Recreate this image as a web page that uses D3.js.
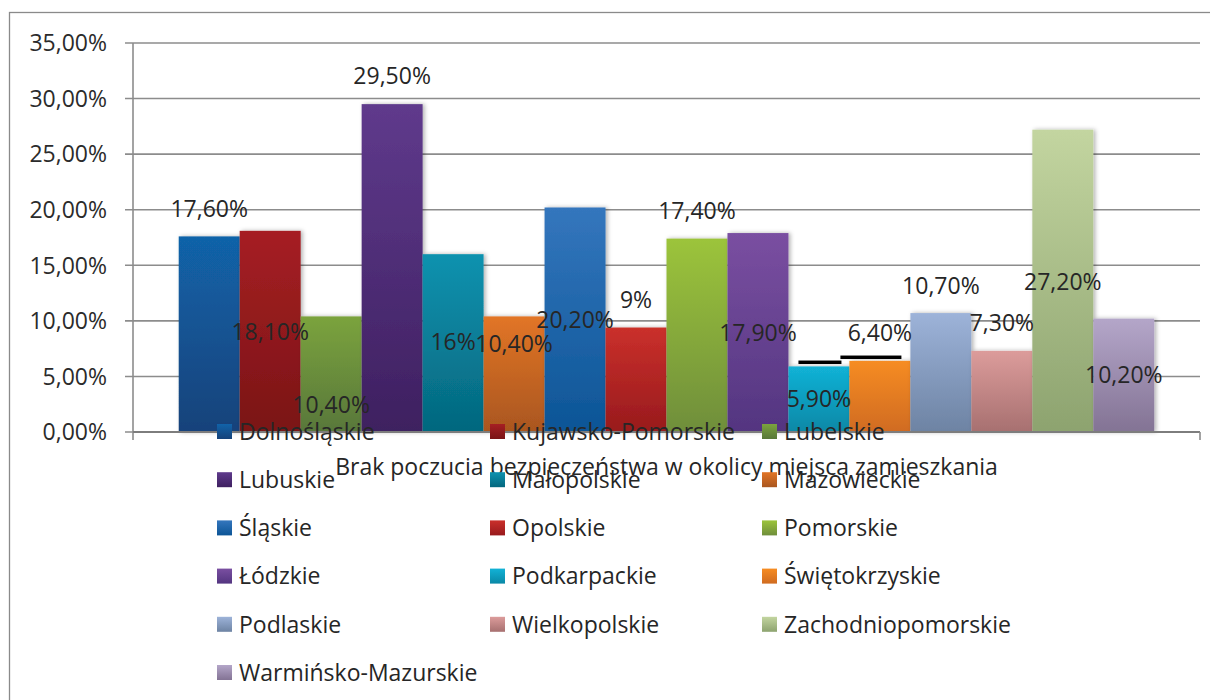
<!DOCTYPE html>
<html>
<head>
<meta charset="utf-8">
<script src="https://cdnjs.cloudflare.com/ajax/libs/d3/7.8.5/d3.min.js"></script>
<style>
  body { margin: 0; background: #fff; }
  svg { display: block; font-family: "Open Sans", sans-serif; }
</style>
</head>
<body>
<div id="chart"></div>
<script>
// one category, sixteen series (voivodeships)
var category = "Brak poczucia bezpieczeństwa w okolicy miejsca zamieszkania";
var regions = ["Dolnośląskie", "Kujawsko-Pomorskie", "Lubelskie", "Lubuskie", "Małopolskie", "Mazowieckie",
    "Śląskie", "Opolskie", "Pomorskie", "Łódzkie", "Podkarpackie", "Świętokrzyskie",
    "Podlaskie", "Wielkopolskie", "Zachodniopomorskie", "Warmińsko-Mazurskie"];
var values = [17.6, 18.1, 10.4, 29.5, 16, 10.4, 20.2, 9.4, 17.4, 17.9, 5.9, 6.4, 10.7, 7.3, 27.2, 10.2];
var labels = ["17,60%", "18,10%", "10,40%", "29,50%", "16%", "10,40%", "20,20%", "9%",
    "17,40%", "17,90%", "5,90%", "6,40%", "10,70%", "7,30%", "27,20%", "10,20%"];
// where excel dropped each data label (in axis units)
var labelAt = [19.35, 8.28, 1.71, 31.3, 7.38, 7.2, 9.36, 11.16, 19.17, 8.19, 2.25, 8.19, 12.42, 9.09, 12.78, 4.41];
var yTicks = [0, 5, 10, 15, 20, 25, 30, 35];

var topColors = ["#1163a9", "#a61f23", "#7ba33d", "#5f3a8c", "#0e92af", "#e27526", "#3476bd", "#ca302b",
    "#9cc43b", "#7a4fa1", "#12b2d6", "#f68c22", "#9db3d9", "#dc9c9b", "#c3d5a0", "#b4a6c9"];
var bottomColors = ["#15427a", "#7a1416", "#58773a", "#3e2060", "#04677e", "#a9561f", "#0c5596", "#981a1d",
    "#6f8e3b", "#533580", "#0a88a6", "#d06b20", "#6d83a3", "#a77070", "#8da36f", "#837394"];

var W = 1210, H = 700;
var margin = {left: 133, top: 43};
var plotRight = 1200, plotBottom = 432;
var fs = 23;

var svg = d3.select("#chart").append("svg")
    .attr("width", W)
    .attr("height", H);

var defs = svg.append("defs");
regions.forEach(function(r, i) {
    var g = defs.append("linearGradient")
        .attr("id", "grad" + i)
        .attr("x1", 0).attr("y1", 0).attr("x2", 0).attr("y2", 1);
    g.append("stop").attr("offset", "0%").attr("stop-color", topColors[i]);
    g.append("stop").attr("offset", "100%").attr("stop-color", bottomColors[i]);
});
var shadow = defs.append("filter").attr("id", "shadow")
    .attr("x", "-20%").attr("y", "-5%").attr("width", "140%").attr("height", "110%");
shadow.append("feDropShadow")
    .attr("dx", 2).attr("dy", 0).attr("stdDeviation", 2)
    .attr("flood-color", "#000").attr("flood-opacity", 0.3);

// outer chart border
svg.append("rect")
    .attr("x", 9.5).attr("y", 12.5)
    .attr("width", 1220).attr("height", 720)
    .attr("fill", "none")
    .attr("stroke", "#8a8a8a")
    .attr("stroke-width", 1.3);

var y = d3.scaleLinear().domain([0, 35]).range([plotBottom, margin.top]);
var x0 = d3.scaleBand().domain([category]).range([margin.left, plotRight]).padding(0);
var x1 = d3.scaleBand().domain(regions).range([0, x0.bandwidth()])
    .paddingInner(0).paddingOuter(0.75);

var fmt = function(v) { return d3.format(".2f")(v).replace(".", ",") + "%"; };

// gridlines
svg.append("g")
    .selectAll("line")
    .data(yTicks)
    .enter().append("line")
    .attr("x1", margin.left - 8)
    .attr("x2", plotRight)
    .attr("y1", function(d) { return y(d); })
    .attr("y2", function(d) { return y(d); })
    .attr("stroke", "#8c8c8c")
    .attr("stroke-width", 1.6);

// y axis line
svg.append("line")
    .attr("x1", margin.left).attr("x2", margin.left)
    .attr("y1", y(35)).attr("y2", plotBottom + 8)
    .attr("stroke", "#8c8c8c").attr("stroke-width", 1.6);

// y tick labels
svg.append("g")
    .selectAll("text")
    .data(yTicks)
    .enter().append("text")
    .attr("x", 107)
    .attr("y", function(d) { return y(d); })
    .attr("dy", "0.36em")
    .attr("text-anchor", "end")
    .attr("font-size", fs)
    .attr("fill", "#2b2b2b")
    .text(fmt);

// bars
var bars = svg.append("g")
    .attr("transform", "translate(" + x0(category) + ",0)");

bars.selectAll("rect")
    .data(values)
    .enter().append("rect")
    .attr("x", function(d, i) { return x1(regions[i]); })
    .attr("y", function(d) { return y(d); })
    .attr("width", x1.bandwidth())
    .attr("height", function(d) { return y(0) - y(d); })
    .attr("fill", function(d, i) { return "url(#grad" + i + ")"; })
    .attr("filter", "url(#shadow)");

// stray black edges above Podkarpackie / Świętokrzyskie
var strays = [{i: 10, a: 10, b: 53, v: 0.35}, {i: 11, a: -9, b: 52, v: 0.3}];
bars.selectAll(".stray")
    .data(strays)
    .enter().append("rect")
    .attr("class", "stray")
    .attr("x", function(d) { return x1(regions[d.i]) + d.a; })
    .attr("width", function(d) { return d.b - d.a; })
    .attr("y", function(d) { return y(values[d.i] + d.v) - 2; })
    .attr("height", 3.5)
    .attr("fill", "#000");

// x axis
svg.append("line")
    .attr("x1", margin.left).attr("x2", plotRight)
    .attr("y1", plotBottom).attr("y2", plotBottom)
    .attr("stroke", "#7d7d7d").attr("stroke-width", 1.8);
svg.append("line")
    .attr("x1", plotRight).attr("x2", plotRight)
    .attr("y1", plotBottom).attr("y2", plotBottom + 8)
    .attr("stroke", "#8c8c8c").attr("stroke-width", 1.6);

// data labels
bars.selectAll(".lbl")
    .data(labels)
    .enter().append("text")
    .attr("class", "lbl")
    .attr("x", function(d, i) { return x1(regions[i]) + x1.bandwidth() / 2; })
    .attr("y", function(d, i) { return y(labelAt[i]); })
    .attr("text-anchor", "middle")
    .attr("font-size", fs)
    .attr("fill", "#262626")
    .text(function(d) { return d; });

// category title under the axis
svg.append("text")
    .attr("x", x0(category) + x0.bandwidth() / 2)
    .attr("y", 475)
    .attr("text-anchor", "middle")
    .attr("font-size", 23)
    .attr("fill", "#262626")
    .text(category);

// legend, three columns
var colX = [217, 490, 762];
var rowY0 = 431.5, rowStep = 48.2;
var leg = svg.append("g")
    .selectAll("g")
    .data(regions)
    .enter().append("g")
    .attr("transform", function(d, i) {
        return "translate(" + colX[i % 3] + "," + (rowY0 + Math.floor(i / 3) * rowStep) + ")";
    });
leg.append("rect")
    .attr("x", 0).attr("y", -7.5)
    .attr("width", 15).attr("height", 15)
    .attr("fill", function(d, i) { return "url(#grad" + i + ")"; });
leg.append("text")
    .attr("x", 22)
    .attr("y", 0)
    .attr("dy", "0.36em")
    .attr("font-size", fs)
    .attr("fill", "#262626")
    .text(function(d) { return d; });
</script>
</body>
</html>
